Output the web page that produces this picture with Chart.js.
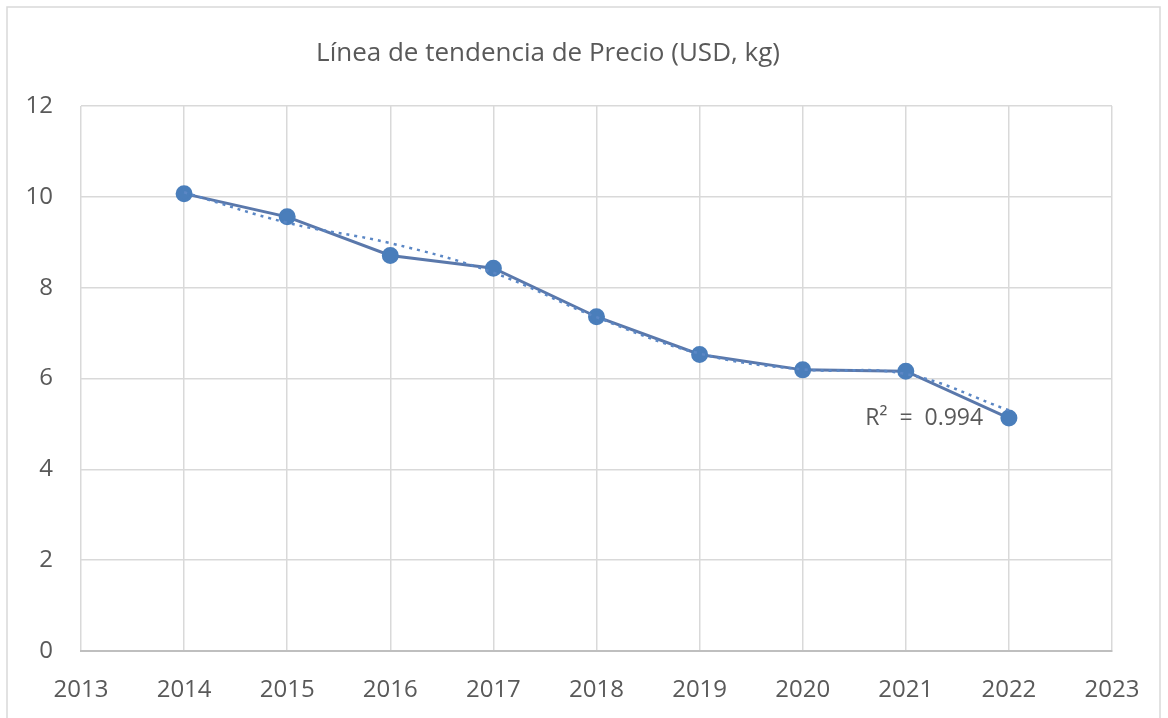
<!DOCTYPE html>
<html>
<head>
<meta charset="utf-8">
<script src="https://cdn.jsdelivr.net/npm/chart.js@4/dist/chart.umd.min.js"></script>
<style>
  html, body { margin: 0; padding: 0; background: #fff; }
  #wrap { width: 1168px; height: 718px; }
</style>
</head>
<body>
<div id="wrap"><canvas id="precioChart"></canvas></div>
<script>
// datos
const anios = [2014, 2015, 2016, 2017, 2018, 2019, 2020, 2021, 2022];
const precio = [10.07, 9.56, 8.71, 8.43, 7.36, 6.53, 6.19, 6.16, 5.13];
const tendencia = [10.1, 9.43, 8.98, 8.33, 7.35, 6.55, 6.2, 6.1, 5.3];
const titulo = "Línea de tendencia de Precio (USD, kg)";
const etiquetaR2 = "R²  =  0.994";

const gris = "#595959";
const azul = "#4a7ebb";
const fuente = "'Open Sans', sans-serif";

// marco, título y etiqueta R²
const decoracion = {
    id: "decoracion",
    beforeDraw(chart) {
        const ctx = chart.ctx;
        ctx.save();
        ctx.fillStyle = "#fff";
        ctx.fillRect(0, 0, chart.width, chart.height);
        ctx.strokeStyle = "#d9d9d9";
        ctx.lineWidth = 1.5;
        ctx.strokeRect(7, 7, 1153, 730);
        ctx.restore();
    },
    afterDraw(chart) {
        const ctx = chart.ctx;
        const x = chart.scales.x, y = chart.scales.y;
        ctx.save();
        ctx.fillStyle = gris;
        ctx.textBaseline = "middle";
        ctx.textAlign = "center";
        ctx.font = "26px " + fuente;
        ctx.fillText(titulo, 548, 54);
        ctx.textAlign = "right";
        ctx.font = "23px " + fuente;
        ctx.fillText(etiquetaR2, x.getPixelForValue(2021.75), y.getPixelForValue(5.13));
        ctx.restore();
    }
};

const puntos = anios.map((a, i) => ({ x: a, y: precio[i] }));
const puntosTendencia = anios.map((a, i) => ({ x: a, y: tendencia[i] }));

new Chart(document.getElementById("precioChart"), {
    type: "scatter",
    data: {
        datasets: [
            {
                label: "Tendencia",
                data: puntosTendencia,
                showLine: true,
                borderColor: "#5b87c5",
                borderWidth: 2.5,
                borderDash: [3, 5],
                pointRadius: 0,
                tension: 0.4,
                order: 0
            },
            {
                label: "Precio (USD, kg)",
                data: puntos,
                showLine: true,
                borderColor: "#5a78ab",
                borderWidth: 3,
                backgroundColor: azul,
                pointBackgroundColor: azul,
                pointBorderColor: azul,
                pointRadius: 7,
                tension: 0,
                order: 1
            }
        ]
    },
    options: {
        responsive: true,
        maintainAspectRatio: false,
        animation: false,
        layout: { padding: { top: 106, right: 56, bottom: 0, left: 0 } },
        plugins: {
            legend: { display: false },
            title: { display: false },
            tooltip: { enabled: false }
        },
        scales: {
            x: {
                type: "linear",
                min: 2013,
                max: 2023,
                ticks: {
                    stepSize: 1,
                    padding: 25,
                    color: gris,
                    font: { family: fuente, size: 24 },
                    callback: v => String(v)
                },
                grid: { color: "#d9d9d9", lineWidth: 1.5, drawTicks: false },
                border: { color: "#bfbfbf", width: 2 },
                afterFit(scale) { scale.height = 67; }
            },
            y: {
                min: 0,
                max: 12,
                ticks: {
                    stepSize: 2,
                    padding: 28,
                    color: gris,
                    font: { family: fuente, size: 24 }
                },
                grid: { color: "#d9d9d9", lineWidth: 1.5, drawTicks: false },
                border: { display: false },
                afterFit(scale) { scale.width = 81; }
            }
        }
    },
    plugins: [decoracion]
});
</script>
</body>
</html>
